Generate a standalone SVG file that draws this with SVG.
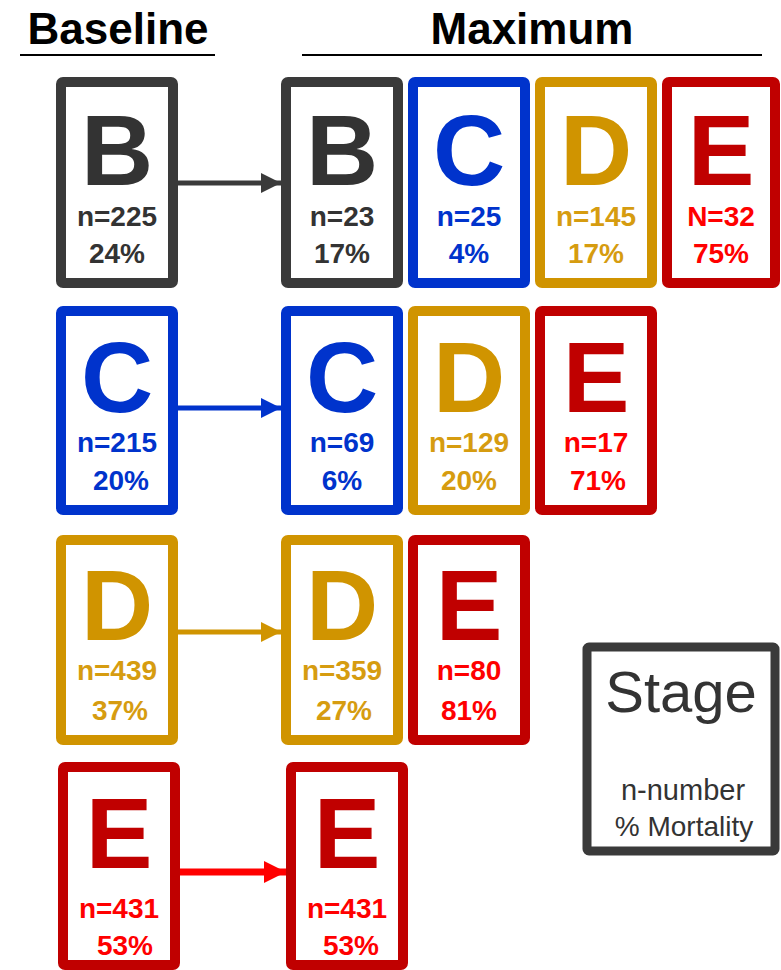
<svg xmlns="http://www.w3.org/2000/svg" width="781" height="970" viewBox="0 0 781 970">
<style>
text{font-family:"Liberation Sans",Arial,sans-serif;text-anchor:middle}
.hd{font-size:44px;font-weight:bold;fill:#000}
.big{font-size:100px;font-weight:bold}
.sm{font-size:28px;font-weight:bold}
.box{fill:#fff;stroke-width:10;stroke-linejoin:round}
.g .box{stroke:#3a3a3a}.g text{fill:#333}
.b .box{stroke:#0033cc}.b text{fill:#0033cc}
.d .box{stroke:#d09400}.d .big{fill:#d09400}.d .sm{fill:#d69c10}
.r .box{stroke:#c00000}.r .big{fill:#c00000}.r .sm{fill:#ff0000}
</style>
<defs>
<marker id="ag" markerWidth="4" markerHeight="4" refX="4" refY="2" orient="auto" markerUnits="strokeWidth"><path d="M0,0L4,2L0,4z" fill="#3a3a3a"/></marker>
<marker id="ab" markerWidth="4" markerHeight="4" refX="4" refY="2" orient="auto" markerUnits="strokeWidth"><path d="M0,0L4,2L0,4z" fill="#0033cc"/></marker>
<marker id="ad" markerWidth="4" markerHeight="4" refX="4" refY="2" orient="auto" markerUnits="strokeWidth"><path d="M0,0L4,2L0,4z" fill="#d09400"/></marker>
<marker id="ar" markerWidth="3.2" markerHeight="3.2" refX="3.2" refY="1.6" orient="auto" markerUnits="strokeWidth"><path d="M0,0L3.2,1.6L0,3.2z" fill="#ff0000"/></marker>
</defs>

<g id="headers">
<text class="hd" x="118" y="44">Baseline</text>
<line x1="20" y1="55" x2="215" y2="55" stroke="#000" stroke-width="2"/>
<text class="hd" x="532" y="44">Maximum</text>
<line x1="302" y1="55" x2="762" y2="55" stroke="#000" stroke-width="2"/>
</g>

<g id="connectors">
<line x1="178" y1="183" x2="281" y2="183" stroke="#3a3a3a" stroke-width="5" marker-end="url(#ag)"/>
<line x1="178" y1="408" x2="281" y2="408" stroke="#0033cc" stroke-width="5" marker-end="url(#ab)"/>
<line x1="178" y1="632" x2="281" y2="632" stroke="#d09400" stroke-width="5" marker-end="url(#ad)"/>
<line x1="180" y1="872" x2="286" y2="872" stroke="#ff0000" stroke-width="7" marker-end="url(#ar)"/>
</g>

<!-- Row 1 -->
<g id="base-B" class="g"><rect class="box" x="61" y="82" width="112" height="201" rx="2"/><text class="big" x="117" y="185">B</text><text class="sm" x="117" y="226">n=225</text><text class="sm" x="117" y="263">24%</text></g>
<g id="max-B1" class="g"><rect class="box" x="286" y="82" width="112" height="201" rx="2"/><text class="big" x="342" y="185">B</text><text class="sm" x="342" y="226">n=23</text><text class="sm" x="342" y="263">17%</text></g>
<g id="max-C1" class="b"><rect class="box" x="413" y="82" width="112" height="201" rx="2"/><text class="big" x="469" y="185">C</text><text class="sm" x="469" y="226">n=25</text><text class="sm" x="469" y="263">4%</text></g>
<g id="max-D1" class="d"><rect class="box" x="540" y="82" width="112" height="201" rx="2"/><text class="big" x="596" y="185">D</text><text class="sm" x="596" y="226">n=145</text><text class="sm" x="596" y="263">17%</text></g>
<g id="max-E1" class="r"><rect class="box" x="667" y="82" width="108" height="201" rx="2"/><text class="big" x="721" y="185">E</text><text class="sm" x="721" y="226">N=32</text><text class="sm" x="721" y="263">75%</text></g>

<!-- Row 2 -->
<g id="base-C" class="b"><rect class="box" x="61" y="311" width="112" height="199" rx="2"/><text class="big" x="117" y="412">C</text><text class="sm" x="117" y="452">n=215</text><text class="sm" x="121" y="490">20%</text></g>
<g id="max-C2" class="b"><rect class="box" x="286" y="311" width="112" height="199" rx="2"/><text class="big" x="342" y="412">C</text><text class="sm" x="342" y="452">n=69</text><text class="sm" x="342" y="490">6%</text></g>
<g id="max-D2" class="d"><rect class="box" x="413" y="311" width="112" height="199" rx="2"/><text class="big" x="469" y="412">D</text><text class="sm" x="469" y="452">n=129</text><text class="sm" x="469" y="490">20%</text></g>
<g id="max-E2" class="r"><rect class="box" x="540" y="311" width="112" height="199" rx="2"/><text class="big" x="596" y="412">E</text><text class="sm" x="596" y="452">n=17</text><text class="sm" x="598" y="490">71%</text></g>

<!-- Row 3 -->
<g id="base-D" class="d"><rect class="box" x="61" y="540" width="112" height="200" rx="2"/><text class="big" x="117" y="640">D</text><text class="sm" x="117" y="680">n=439</text><text class="sm" x="120" y="720">37%</text></g>
<g id="max-D3" class="d"><rect class="box" x="286" y="540" width="112" height="200" rx="2"/><text class="big" x="342" y="640">D</text><text class="sm" x="342" y="680">n=359</text><text class="sm" x="344" y="720">27%</text></g>
<g id="max-E3" class="r"><rect class="box" x="413" y="540" width="112" height="200" rx="2"/><text class="big" x="469" y="640">E</text><text class="sm" x="469" y="680">n=80</text><text class="sm" x="469" y="720">81%</text></g>

<!-- Row 4 -->
<g id="base-E" class="r"><rect class="box" x="63" y="767" width="112" height="198" rx="2"/><text class="big" x="119" y="868">E</text><text class="sm" x="119" y="918">n=431</text><text class="sm" x="125" y="955">53%</text></g>
<g id="max-E4" class="r"><rect class="box" x="291" y="767" width="112" height="198" rx="2"/><text class="big" x="347" y="868">E</text><text class="sm" x="347" y="918">n=431</text><text class="sm" x="351" y="955">53%</text></g>

<!-- Legend -->
<g id="legend"><rect x="587" y="647" width="188" height="204" rx="2" fill="#fff" stroke="#3a3a3a" stroke-width="9"/>
<text x="681" y="712" style="font-size:58px;fill:#333">Stage</text>
<text x="683" y="800" style="font-size:29px;fill:#333">n-number</text>
<text x="684" y="836" style="font-size:28px;fill:#333">% Mortality</text></g>
</svg>
